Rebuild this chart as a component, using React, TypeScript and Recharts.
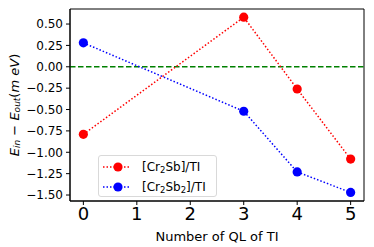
import { LineChart, Line, XAxis, YAxis, ReferenceLine, ReferenceArea } from 'recharts';

const qlValues = [0, 3, 4, 5];
const cr2sbValues = [-0.79, 0.58, -0.26, -1.08];
const cr2sb2Values = [0.28, -0.52, -1.23, -1.47];
const xTicks = [0, 1, 2, 3, 4, 5];
const yTicks = [-1.5, -1.25, -1.0, -0.75, -0.5, -0.25, 0, 0.25, 0.5];
const xDomain = [-0.25, 5.25];
const yDomain = [-1.57, 0.676];

const data = qlValues.map((ql, i) => ({ ql, cr2sb: cr2sbValues[i], cr2sb2: cr2sb2Values[i] }));

const FONT = '"DejaVu Sans", sans-serif';

const fmt = (v: number) => v.toFixed(2).replace('-', '\u2212');

const LegendMarker = ({ color }: { color: string }) => (
    <svg width={30} height={12} style={{ display: 'block' }}>
        <line x1={1} y1={6} x2={29} y2={6} stroke={color} strokeWidth={1.5} strokeDasharray="1.5 2" />
        <circle cx={16} cy={6} r={4.6} fill={color} />
    </svg>
);

const subStyle = { fontSize: 8.5, verticalAlign: '-2px', lineHeight: 0 };

const ChartLegend = () => (
    <div
        style={{
            position: 'absolute',
            left: 98,
            top: 155,
            width: 119,
            height: 42,
            boxSizing: 'border-box',
            border: '1px solid #d9d9d9',
            borderRadius: 3,
            background: 'rgba(255,255,255,0.8)',
            padding: '1px 0 0 3px',
            fontFamily: FONT,
            fontSize: 12,
            color: '#000',
        }}
    >
        <div style={{ display: 'flex', alignItems: 'center', height: 20 }}>
            <LegendMarker color="#ff0000" />
            <span style={{ marginLeft: 10 }}>
                [Cr<sub style={subStyle}>2</sub>Sb]/TI
            </span>
        </div>
        <div style={{ display: 'flex', alignItems: 'center', height: 19 }}>
            <LegendMarker color="#0000ff" />
            <span style={{ marginLeft: 10 }}>
                [Cr<sub style={subStyle}>2</sub>Sb<sub style={subStyle}>2</sub>]/TI
            </span>
        </div>
    </div>
);

const YLabel = () => (
    <text
        x={14}
        y={105}
        transform="rotate(-90, 14, 105)"
        textAnchor="middle"
        dominantBaseline="central"
        fontFamily={FONT}
        fontSize={13}
        fill="#000"
    >
        <tspan fontStyle="italic">E</tspan>
        <tspan fontStyle="italic" fontSize={9} dy={3}>in</tspan>
        <tspan dy={-3}> {'\u2212'} </tspan>
        <tspan fontStyle="italic">E</tspan>
        <tspan fontStyle="italic" fontSize={9} dy={3}>out</tspan>
        <tspan dy={-3}>(</tspan>
        <tspan fontStyle="italic">m eV</tspan>
        <tspan>)</tspan>
    </text>
);

export default function App() {
    return (
        <div style={{ position: 'absolute', left: 0, top: 0, width: 374, height: 247, background: '#fff' }}>
            <LineChart width={374} height={247} data={data} margin={{ top: 9, right: 10, left: 0, bottom: 0 }}>
                <XAxis
                    dataKey="ql"
                    type="number"
                    domain={xDomain}
                    ticks={xTicks}
                    interval={0}
                    allowDataOverflow
                    height={46}
                    stroke="#000"
                    tickSize={4}
                    tickMargin={2}
                    tick={{ fill: '#000', fontSize: 18, fontFamily: FONT }}
                    label={{
                        value: 'Number of QL of TI',
                        position: 'insideBottom',
                        offset: 6,
                        fill: '#000',
                        fontSize: 13,
                        fontFamily: FONT,
                    }}
                />
                <YAxis
                    type="number"
                    domain={yDomain}
                    ticks={yTicks}
                    interval={0}
                    allowDataOverflow
                    width={70}
                    stroke="#000"
                    tickSize={4}
                    tickMargin={3}
                    tickFormatter={fmt}
                    tick={{ fill: '#000', fontSize: 12, fontFamily: FONT }}
                    label={{ content: () => <YLabel /> }}
                />
                <ReferenceArea
                    x1={xDomain[0]}
                    x2={xDomain[1]}
                    y1={yDomain[0]}
                    y2={yDomain[1]}
                    fill="none"
                    fillOpacity={0}
                    stroke="#000"
                    strokeWidth={1}
                    ifOverflow="visible"
                />
                <ReferenceLine y={0} stroke="#008000" strokeWidth={1.5} strokeDasharray="5.5 2.5" />
                <Line
                    dataKey="cr2sb"
                    stroke="#ff0000"
                    strokeWidth={1.5}
                    strokeDasharray="1.5 2"
                    dot={{ r: 4.6, fill: '#ff0000', stroke: '#ff0000', strokeWidth: 0, strokeDasharray: '' }}
                    isAnimationActive={false}
                />
                <Line
                    dataKey="cr2sb2"
                    stroke="#0000ff"
                    strokeWidth={1.5}
                    strokeDasharray="1.5 2"
                    dot={{ r: 4.6, fill: '#0000ff', stroke: '#0000ff', strokeWidth: 0, strokeDasharray: '' }}
                    isAnimationActive={false}
                />
            </LineChart>
            <ChartLegend />
        </div>
    );
}
